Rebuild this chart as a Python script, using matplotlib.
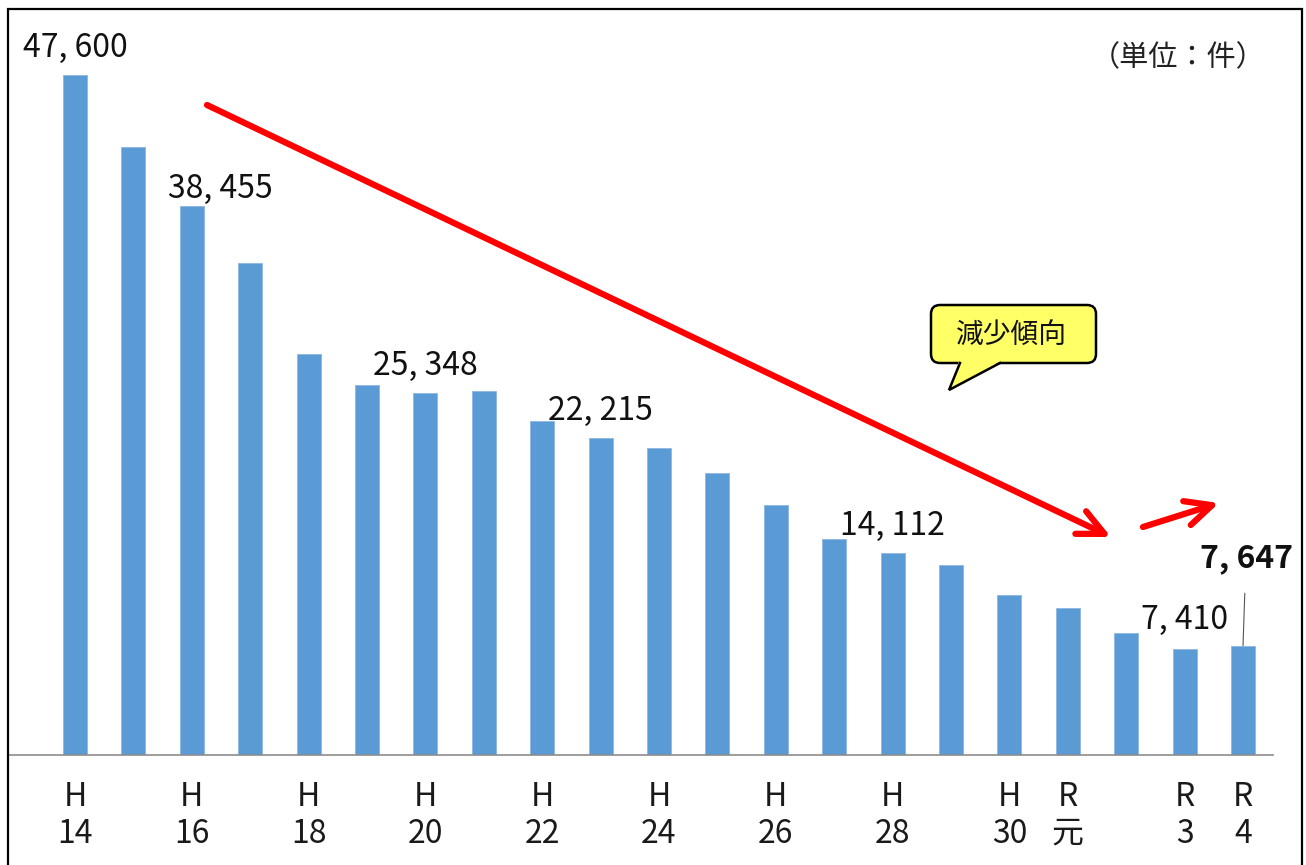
import matplotlib
matplotlib.use("Agg")
import matplotlib.pyplot as plt
from matplotlib import font_manager as fm
from matplotlib.patches import FancyBboxPatch, Polygon, FancyArrowPatch
from matplotlib.lines import Line2D
from matplotlib.transforms import Affine2D

# ---------------- data ----------------
categories = ["H14", "H15", "H16", "H17", "H18", "H19", "H20", "H21", "H22",
              "H23", "H24", "H25", "H26", "H27", "H28", "H29", "H30",
              "R元", "R2", "R3", "R4"]
counts = [47600, 42560, 38455, 34440, 28070, 25900, 25348, 25480, 23380,
          22215, 21490, 19740, 17500, 15120, 14112, 13300, 11200,
          10290, 8540, 7410, 7647]
tick_positions = [0, 2, 4, 6, 8, 10, 12, 14, 16, 17, 19, 20]
tick_labels = ["H\n14", "H\n16", "H\n18", "H\n20", "H\n22", "H\n24", "H\n26",
               "H\n28", "H\n30", "R\n元", "R\n3", "R\n4"]
labelled = ["H14", "H16", "H20", "H23", "H28", "R3", "R4"]
unit_text = "（単位：件）"
callout_text = "減少傾向"

# ---------------- fonts ----------------
names = {f.name for f in fm.fontManager.ttflist}
fam = []
if "Liberation Sans Narrow" in names:
    fam.append("Liberation Sans Narrow")
fam += ["Noto Sans CJK JP", "DejaVu Sans"]
cjk = ["Noto Sans CJK JP", "DejaVu Sans"]
plt.rcParams["font.family"] = fam

W, H = 1306, 865
fig = plt.figure(figsize=(W / 100, H / 100), dpi=100)
fig.patch.set_facecolor("white")
px = Affine2D().scale(1 / W, 1 / H) + fig.transFigure


def P(x, y):
    return (x, H - y)


# axes placed in pixel terms
ax_l, ax_r, ax_b, ax_t = 8, 1273, 755, 9
ax = fig.add_axes([ax_l / W, (H - ax_b) / H, (ax_r - ax_l) / W, (ax_b - ax_t) / H])
step = 58.4
x0 = 75
ax.set_xlim((ax_l - x0) / step, (ax_r - x0) / step)
ax.set_ylim(0, (ax_b - ax_t) * 70)

xs = list(range(len(categories)))
ax.bar(xs, counts, width=0.41, color="#5B9BD5", edgecolor="#8DB6E4", linewidth=0.6, zorder=2)

for s in ["left", "right", "top"]:
    ax.spines[s].set_visible(False)
ax.spines["bottom"].set_color("#8C8C8C")
ax.spines["bottom"].set_linewidth(1.2)
ax.set_yticks([])
ax.set_xticks(tick_positions)
ax.set_xticklabels(tick_labels, fontsize=23, linespacing=1.17, color="#1a1a1a")
ax.tick_params(axis="x", length=0, pad=19)
ax.patch.set_alpha(0)

# value labels (offsets in pixels)
label_offsets = {"H14": (0, 18), "H16": (29, 8), "H20": (0, 18), "H23": (0, 18),
                 "H28": (0, 18), "R3": (0, 20)}
for cat in labelled:
    i = categories.index(cat)
    v = counts[i]
    txt = f"{v // 1000}, {v % 1000:03d}"
    if cat == "R4":
        ax.annotate(txt, xy=(i, v), xytext=(3, 79), textcoords="offset pixels",
                    ha="center", va="baseline", fontsize=23, fontweight="bold",
                    color="#111111",
                    arrowprops=dict(arrowstyle="-", color="#555555", lw=0.8,
                                    shrinkA=12, shrinkB=0))
    else:
        dx, dy = label_offsets[cat]
        ax.annotate(txt, xy=(i, v), xytext=(dx, dy), textcoords="offset pixels",
                    ha="center", va="baseline", fontsize=23, color="#111111")

# unit text
fig.text(1178 / W, (H - 58) / H, unit_text, ha="center", va="center",
         fontsize=21, family=cjk, color="#222222")

# red arrows
for (a, b) in [((207, 105), (1111, 537)), ((1143, 527), (1219, 503))]:
    arr = FancyArrowPatch(P(*a), P(*b), transform=px,
                          arrowstyle="->,head_length=0.42,head_width=0.2",
                          mutation_scale=45, lw=4.5, color="#FF0000",
                          shrinkA=0, shrinkB=0, zorder=5)
    fig.add_artist(arr)

# callout box
bx0, by0, bx1, by1 = 931, 305, 1096, 363
box = FancyBboxPatch(P(bx0, by1), bx1 - bx0, by1 - by0,
                     boxstyle="round,pad=0,rounding_size=9",
                     transform=px, facecolor="#FFFF66", edgecolor="black",
                     lw=1.8, zorder=6)
fig.add_artist(box)
tail_fill = Polygon([P(959, by1 - 2), P(949, 390), P(1001, by1 - 2)], closed=True,
                    transform=px, facecolor="#FFFF66", edgecolor="none", zorder=7)
fig.add_artist(tail_fill)
fig.add_artist(Line2D([P(960, by1)[0], P(949, 390)[0], P(1000, by1)[0]],
                      [P(960, by1)[1], P(949, 390)[1], P(1000, by1)[1]],
                      transform=px, color="black", lw=1.8, zorder=8,
                      solid_joinstyle="miter"))
fig.text(1011 / W, (H - 335) / H, callout_text, ha="center", va="center",
         fontsize=20, family=cjk, color="#111111", zorder=9)

# outer frame (bottom edge lies below the image)
fig.add_artist(Line2D([P(8, 880)[0], P(8, 9)[0], P(1302, 9)[0], P(1302, 880)[0]],
                      [P(8, 880)[1], P(8, 9)[1], P(1302, 9)[1], P(1302, 880)[1]],
                      transform=px, color="black", lw=1.6, zorder=10,
                      solid_joinstyle="miter"))

fig.savefig("out.png", dpi=100, facecolor="white")
